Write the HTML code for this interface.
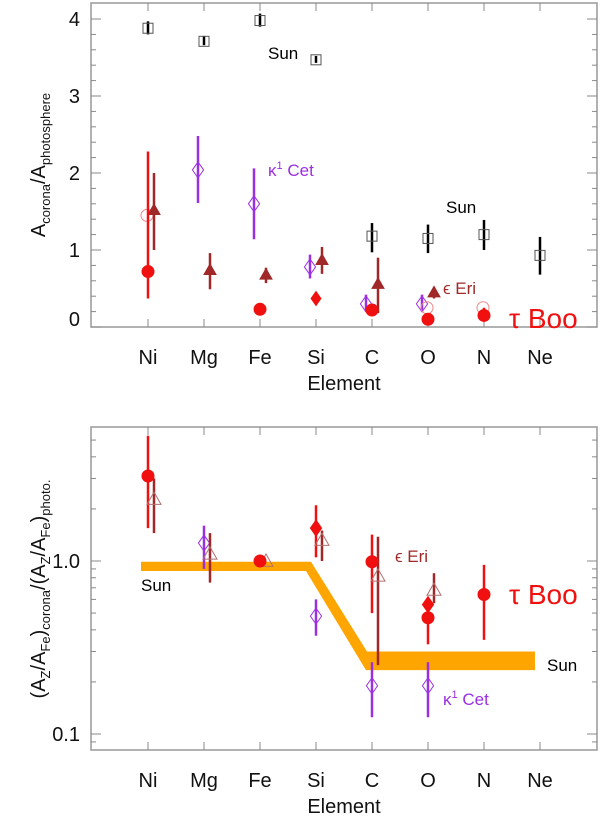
<!DOCTYPE html>
<html><head><meta charset="utf-8"><style>
body{margin:0;background:#fff}
svg{display:block;font-family:"Liberation Sans","DejaVu Sans",sans-serif}
</style></head><body>
<svg id="c" width="600" height="818"></svg>
<script>
const elements=["Ni","Mg","Fe","Si","C","O","N","Ne"];
// top panel: [elementIndex, value, errLow, errHigh]
const sunTop=[[0,3.88,3.8,3.97],[1,3.71,3.66,3.78],[2,3.98,3.9,4.07],[3,3.47,3.43,3.52],[4,1.18,0.97,1.35],[5,1.15,0.96,1.33],[6,1.2,1.0,1.39],[7,0.93,0.68,1.17]];
const kappaTop=[[1,2.04,1.61,2.48],[2,1.6,1.14,2.06],[3,0.78,0.63,0.94],[4,0.3,0.2,0.42],[5,0.3,0.2,0.42]];
const epsTop=[[0,1.52,1.0,2.0],[1,0.74,0.49,0.96],[2,0.68,0.57,0.77],[3,0.87,0.69,1.04],[4,0.56,0.18,0.9],[5,0.45,0.37,0.51]];
const tauTopCircle=[[0,0.72,0.37,2.28],[2,0.23,0.2,0.27],[4,0.22,0.17,0.3],[5,0.1,0.05,0.18],[6,0.15,0.1,0.25]];
const tauTopDiamond=[[3,0.37,0.37,0.37]];
const tauTopOpen=[[0,1.45],[5,0.25],[6,0.25]];
// bottom panel (log)
const tauBotCircle=[[0,3.1,1.55,5.3],[2,1.0,0.93,1.07],[4,0.99,0.5,1.42],[5,0.47,0.33,0.6],[6,0.64,0.35,0.95]];
const tauBotDiamond=[[3,1.55,1.05,2.1],[5,0.56,0.47,0.6]];
const epsBot=[[0,2.28,1.45,3.0],[1,1.1,0.75,1.45],[2,1.0,1.0,1.0],[3,1.32,1.0,1.5],[4,0.82,0.25,1.38],[5,0.68,0.57,0.85]];
const kappaBot=[[1,1.27,0.9,1.6],[3,0.48,0.37,0.6],[4,0.19,0.125,0.26],[5,0.19,0.125,0.26]];
const sunBandTop=[0.99,0.99,0.99,0.99,0.30,0.30,0.30,0.30];
const sunBandBot=[0.875,0.875,0.875,0.875,0.234,0.234,0.234,0.234];

const RED="#f01010",BROWN="#a02828",PURP="#9a30e0",ORANGE="#ffa500";
const svg=document.getElementById('c');const NS="http://www.w3.org/2000/svg";
function mk(t,a,name,p){const e=document.createElementNS(NS,t);for(const k in a)e.setAttribute(k,a[k]);


(p||svg).appendChild(e);return e;}
const X0=91,X1=597;
const xs=i=>148+56*i;
const yTop=v=>327-77*v;
const yBot=v=>561-173*Math.log10(v);
function frame(t,b,name){mk('rect',{x:X0,y:t,width:X1-X0,height:b-t,fill:'none',stroke:'#999','stroke-width':1.5},name);
 elements.forEach((el,i)=>{mk('line',{x1:xs(i),x2:xs(i),y1:b,y2:b-8,stroke:'#888'},'x-tick');mk('line',{x1:xs(i),x2:xs(i),y1:t,y2:t+8,stroke:'#888'},'x-tick-top');
 const tx=mk('text',{x:xs(i),y:b+37,'text-anchor':'middle','font-size':20,fill:'#111'},'x-tick-label');tx.textContent=el;});
 const xt=mk('text',{x:344,y:b+63,'text-anchor':'middle','font-size':20,fill:'#111'},'x-axis-title');xt.textContent='Element';}
function ytick(y,len,name){mk('line',{x1:X0,x2:X0+len,y1:y,y2:y,stroke:'#888'},name);mk('line',{x1:X1,x2:X1-len,y1:y,y2:y,stroke:'#888'},name);}
function err(i,dx,lo,hi,col,y,w){mk('line',{x1:xs(i)+dx,x2:xs(i)+dx,y1:y(lo),y2:y(hi),stroke:col,'stroke-width':w||2.5},'error-bar');}
function circ(cx,cy,r,fill,stroke,name){mk('circle',{cx,cy,r,fill,stroke,'stroke-width':1},name);}
function diam(cx,cy,r,fill,stroke,name){mk('polygon',{points:`${cx},${cy-r} ${cx+r*0.7},${cy} ${cx},${cy+r} ${cx-r*0.7},${cy}`,fill,stroke,'stroke-width':1},name);}
function tri(cx,cy,r,fill,stroke,name){mk('polygon',{points:`${cx},${cy-r} ${cx+r},${cy+r*0.75} ${cx-r},${cy+r*0.75}`,fill,stroke,'stroke-width':1},name);}
function label(x,y,txt,col,size,name){const t=mk('text',{x,y,'font-size':size,fill:col},name);t.innerHTML=txt;return t;}

// ---- top panel
frame(3,327,'top-panel-frame');
for(let v=0;v<=4.2;v+=0.2){const y=yTop(v);if(y<3)break;const maj=Math.abs(v-Math.round(v))<1e-6;ytick(y,maj?10:5,'y-tick');}
[0,1,2,3,4].forEach(v=>{const t=mk('text',{x:80,y:Math.min(yTop(v)+7,326),'text-anchor':'end','font-size':20,fill:'#111'},'y-tick-label');t.textContent=v;});
const yt=mk('text',{transform:'translate(45,165) rotate(-90)','text-anchor':'middle','font-size':20,fill:'#111'},'y-axis-title');
yt.innerHTML='A<tspan font-size="13" dy="5">corona</tspan><tspan dy="-5">/A</tspan><tspan font-size="13" dy="5">photosphere</tspan>';
sunTop.forEach(d=>{err(d[0],0,d[2],d[3],'#000',yTop,2.5);mk('rect',{x:xs(d[0])-5,y:yTop(d[1])-5,width:10,height:10,fill:'none',stroke:'#555'},'sun-point');});
kappaTop.forEach(d=>{err(d[0],-6,d[2],d[3],PURP,yTop,2.5);diam(xs(d[0])-6,yTop(d[1]),8,'none',PURP,'kappa-cet-point');});
tauTopOpen.forEach(d=>circ(xs(d[0])-1,yTop(d[1]),6,'none','#e88','tau-boo-open-point'));
epsTop.forEach(d=>{err(d[0],6,d[2],d[3],BROWN,yTop,2.5);tri(xs(d[0])+6,yTop(d[1]),6,BROWN,BROWN,'eps-eri-point');});
tauTopCircle.forEach(d=>{err(d[0],0,d[2],d[3],RED,yTop,2.5);circ(xs(d[0]),yTop(d[1]),6,RED,RED,'tau-boo-point');});
tauTopDiamond.forEach(d=>diam(xs(d[0]),yTop(d[1]),7,RED,RED,'tau-boo-diamond'));
label(268,59,'Sun','#000',17,'sun-label-top');
label(446,213,'Sun','#000',17,'sun-label-top-right');
label(268,176,'κ<tspan font-size="11" dy="-7">1</tspan><tspan dy="7"> Cet</tspan>',PURP,17,'kappa-cet-label');
label(443,294,'ϵ Eri',BROWN,17,'eps-eri-label');
label(509,328,'τ Boo',RED,28,'tau-boo-label');

// ---- bottom panel
frame(427,750,'bottom-panel-frame');
[0.1,1].forEach(dec=>{for(let m=1;m<10;m++){const v=dec*m;const y=yBot(v);if(y<427||y>750)continue;ytick(y,m===1?10:5,'y-tick');}});
[0.09].forEach(v=>ytick(yBot(v),5,'y-tick'));
[[0.1,'0.1'],[1,'1.0']].forEach(d=>{const t=mk('text',{x:80,y:yBot(d[0])+7,'text-anchor':'end','font-size':20,fill:'#111'},'y-tick-label');t.textContent=d[1];});
const yb=mk('text',{transform:'translate(45,589) rotate(-90)','text-anchor':'middle','font-size':20,fill:'#111'},'y-axis-title-bottom');
yb.innerHTML='(A<tspan font-size="13" dy="5">Z</tspan><tspan dy="-5">/A</tspan><tspan font-size="13" dy="5">Fe</tspan><tspan dy="-5">)</tspan><tspan font-size="13" dy="5">corona</tspan><tspan dy="-5">/(A</tspan><tspan font-size="13" dy="5">Z</tspan><tspan dy="-5">/A</tspan><tspan font-size="13" dy="5">Fe</tspan><tspan dy="-5">)</tspan><tspan font-size="13" dy="5">photo.</tspan>';
// sun band
(function(){const pts=[];
const xsTopEdge=[xs(0)-7,xs(1),xs(2),xs(3)-5,xs(4)-5,xs(5),xs(6),xs(7)-5];
const xsBotEdge=[xs(0)-7,xs(1),xs(2),xs(3)-10,xs(4)-6,xs(5),xs(6),xs(7)-5];
for(let i=0;i<8;i++)pts.push(xsTopEdge[i]+','+yBot(sunBandTop[i]));
for(let i=7;i>=0;i--)pts.push(xsBotEdge[i]+','+yBot(sunBandBot[i]));
mk('polygon',{points:pts.join(' '),fill:ORANGE},'sun-band');})();
kappaBot.forEach(d=>{err(d[0],0,d[2],d[3],PURP,yBot,2.5);diam(xs(d[0]),yBot(d[1]),8,'none',PURP,'kappa-cet-point');});
tauBotCircle.forEach(d=>{err(d[0],0,d[2],d[3],RED,yBot,2.5);});
tauBotDiamond.forEach(d=>{err(d[0],0,d[2],d[3],RED,yBot,2.5);});
epsBot.forEach(d=>{err(d[0],6,d[2],d[3],BROWN,yBot,2.5);tri(xs(d[0])+6,yBot(d[1]),7,'none','#b07070','eps-eri-point');});
tauBotCircle.forEach(d=>circ(xs(d[0]),yBot(d[1]),6,RED,RED,'tau-boo-point'));
tauBotDiamond.forEach(d=>diam(xs(d[0]),yBot(d[1]),8,RED,RED,'tau-boo-diamond'));
label(141,591,'Sun','#000',17,'sun-label-bottom-left');
label(547,671,'Sun','#000',17,'sun-label-bottom-right');
label(395,562,'ϵ Eri',BROWN,17,'eps-eri-label-bottom');
label(509,604,'τ Boo',RED,28,'tau-boo-label-bottom');
label(443,705,'κ<tspan font-size="11" dy="-7">1</tspan><tspan dy="7"> Cet</tspan>',PURP,17,'kappa-cet-label-bottom');
</script>
</body></html>
